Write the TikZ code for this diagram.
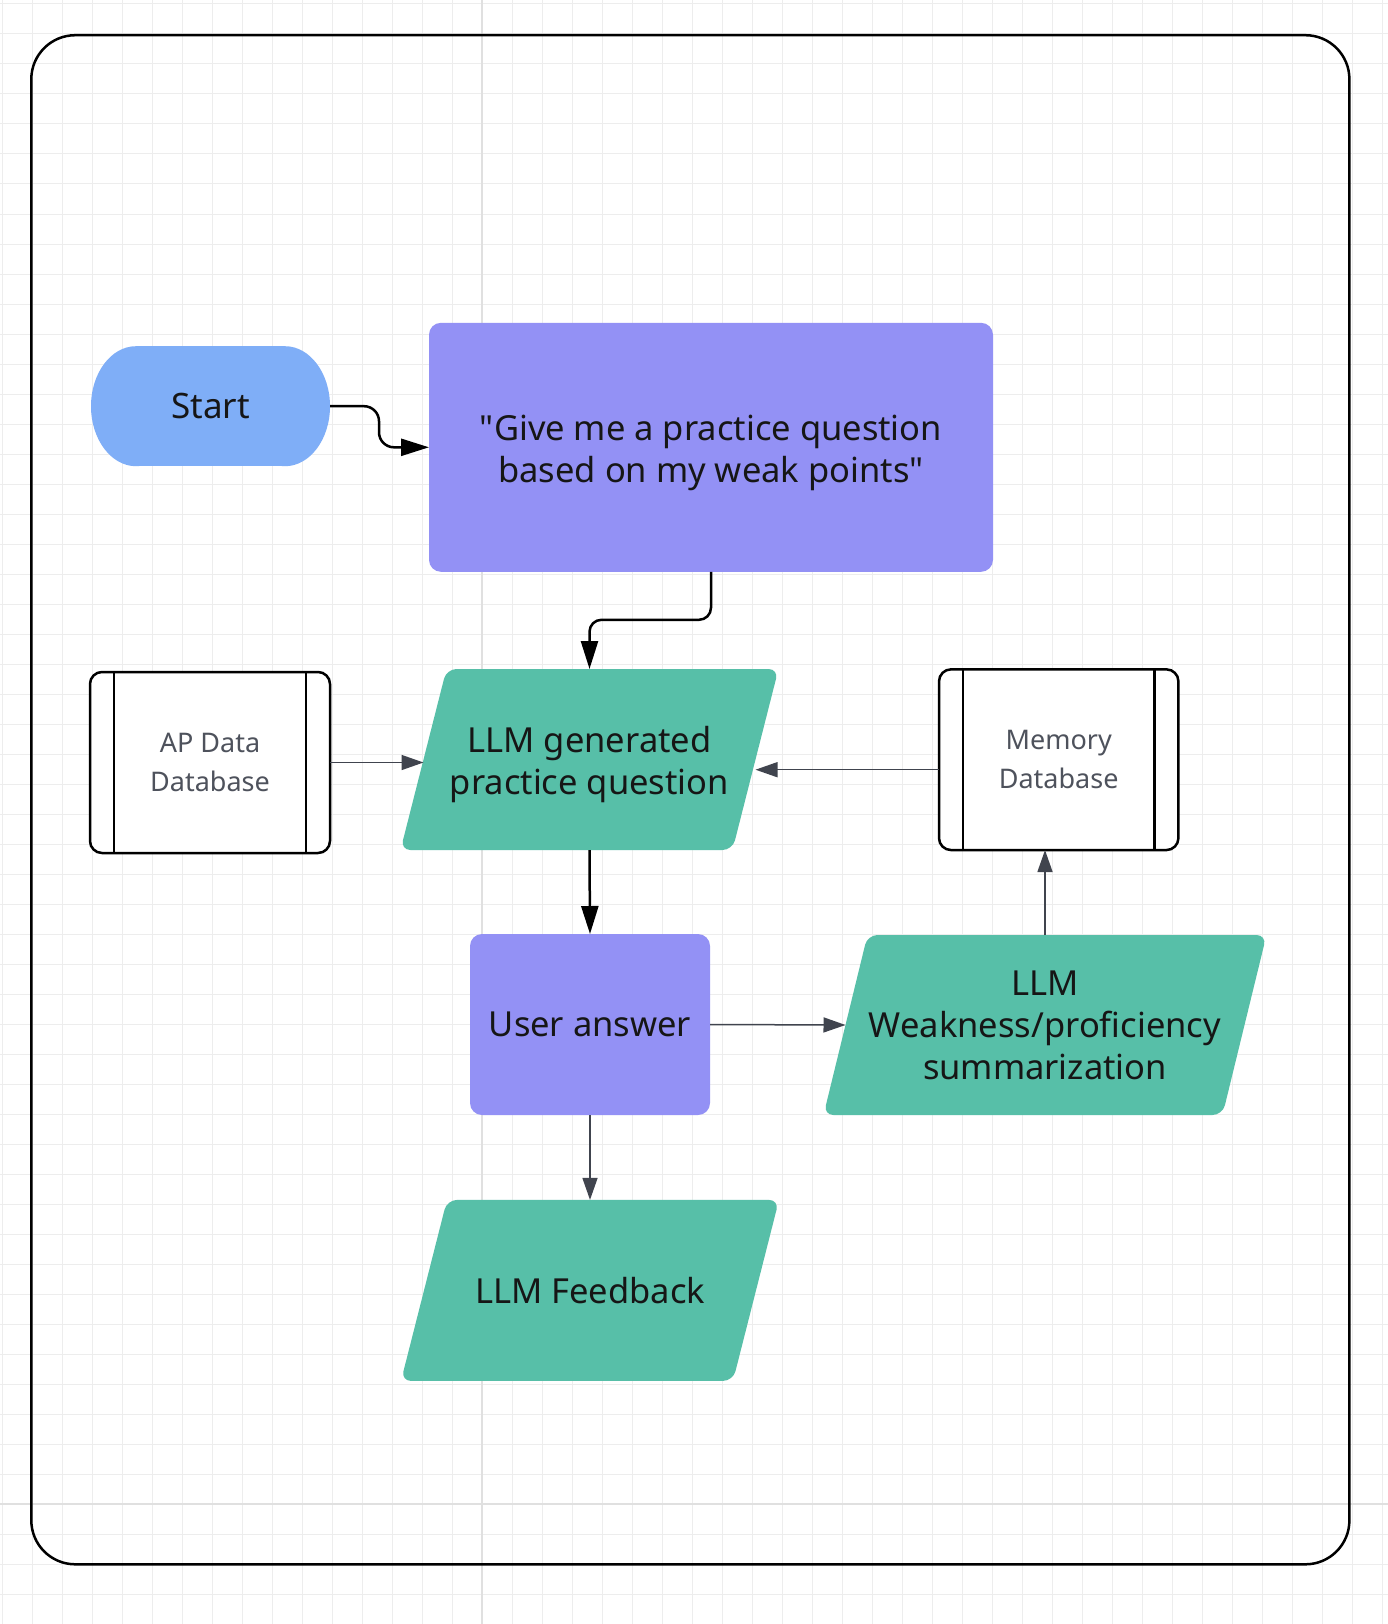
\documentclass[tikz,border=0pt]{standalone}
\usepackage{fontspec}
\setmainfont{Noto Sans}[Ligatures=TeXOff]
\usetikzlibrary{arrows.meta,calc}
\pgfdeclarelayer{gridlayer}
\pgfdeclarelayer{bg}
\pgfsetlayers{gridlayer,bg,main}
\definecolor{startblue}{HTML}{7FAEF7}
\definecolor{purp}{HTML}{9391F5}
\definecolor{tealc}{HTML}{57BFA8}
\definecolor{arrgray}{HTML}{40444E}
\definecolor{dbtext}{HTML}{4E525C}
\definecolor{gridc}{HTML}{EDEDED}
\definecolor{gridd}{HTML}{E0E0E0}
\definecolor{txt}{HTML}{161616}
\newcommand{\topstrut}{\rule{0pt}{36pt}}
\begin{document}
\begin{tikzpicture}[x=1pt,y=-1pt,
  every node/.style={inner sep=0pt, outer sep=0pt, align=center, text=txt},
  mainfont/.style={font=\fontsize{34.5}{42}\selectfont},
  startnode/.style={minimum width=239pt, minimum height=120pt, font=\fontsize{35}{42}\selectfont},
  purpbox/.style={fill=purp, rounded corners=12pt, mainfont},
  parabox/.style={minimum width=#1, mainfont},
  dbbox/.style={draw=black, line width=2.5pt, rounded corners=12pt, fill=white,
    minimum width=240pt, minimum height=181pt, font=\fontsize{27}{38.7}\selectfont, text=dbtext},
  dbline/.style={draw=black, line width=2.5pt},
  blackarrow/.style={draw=black, line width=2.5pt, -{Triangle[length=28pt,width=17pt]}},
  grayarrow/.style={draw=arrgray, line width=1.5pt, -{Triangle[length=22pt,width=15pt]}},
  parafill/.style={fill=tealc, rounded corners=10pt},
]
\useasboundingbox (0,0) rectangle (1388,1624);
\begin{pgfonlayer}{gridlayer}
  \fill[white] (0,0) rectangle (1388,1624);
  \foreach \x in {2,32,...,1388} \draw[gridc, line width=1pt] (\x,0) -- (\x,1624);
  \foreach \y in {4,34,...,1624} \draw[gridc, line width=1pt] (0,\y) -- (1388,\y);
  \draw[gridd, line width=1.2pt] (482,0) -- (482,1624);
  \draw[gridd, line width=1.2pt] (0,1504) -- (1388,1504);
\end{pgfonlayer}

% outer frame
\draw[line width=2.5pt, rounded corners=44pt] (31.3,35.2) rectangle (1349.4,1564.3);

% nodes
\node[startnode] (start) at (210.5,406.2) {Start};
\node[purpbox, minimum width=564pt, minimum height=249pt] (q) at (711,447.3)
  {\topstrut"Give me a practice question\\based on my weak points"};
\node[dbbox] (ap) at (210,762.5) {AP Data\\Database};
\node[dbbox, minimum width=239.4pt, minimum height=180.7pt] (mem) at (1058.7,759.7) {Memory\\Database};
\node[parabox=332pt, minimum height=181pt] (gen) at (589.5,759.5) {\topstrut LLM generated\\practice question};
\node[purpbox, minimum width=240pt, minimum height=181pt] (user) at (590,1024.5) {User answer};
\node[parabox=399pt, minimum height=180pt] (summ) at (1045,1025) {LLM\\Weakness/proficiency\\summarization};
\node[parabox=332pt, minimum height=181pt] (fb) at (590,1290.4) {LLM Feedback};

% database side strips
\draw[dbline] ([xshift=24pt]ap.north west) -- ([xshift=24pt]ap.south west);
\draw[dbline] ([xshift=-24pt]ap.north east) -- ([xshift=-24pt]ap.south east);
\draw[dbline] ([xshift=24pt]mem.north west) -- ([xshift=24pt]mem.south west);
\draw[dbline] ([xshift=-24pt]mem.north east) -- ([xshift=-24pt]mem.south east);

% shape fills behind text
\begin{pgfonlayer}{bg}
  \fill[startblue] ($(start.north west)+(45,0)$) rectangle ($(start.south east)+(-45,0)$);
  \fill[startblue] ($(start.west)+(45,0)$) ellipse [x radius=45, y radius=60];
  \fill[startblue] ($(start.east)+(-45,0)$) ellipse [x radius=45, y radius=60];
  \foreach \n/\s in {gen/23, summ/22, fb/23} {
    \fill[parafill] ($(\n.north west)+(\s,0)$) -- ($(\n.north east)+(\s,0)$)
      -- ($(\n.south east)+(-\s,0)$) -- ($(\n.south west)+(-\s,0)$) -- cycle;
  }
\end{pgfonlayer}

% connectors
\draw[blackarrow, rounded corners=15pt] (start.east) -- ++(49,0) |- (q.west);
\draw[blackarrow, rounded corners=12pt] (q.south) -- ++(0,48) -| (gen.north);
\draw[blackarrow] (gen.south) -- (user.north);
\draw[grayarrow] (ap.east) -- (ap.east -| gen.west);
\draw[grayarrow] ([yshift=-10pt]mem.west) -- ([yshift=-10pt]mem.west -| gen.east);
\draw[grayarrow] (user.east) -- (summ.west);
\draw[grayarrow] (summ.north) -- (summ.north |- mem.south);
\draw[grayarrow] (user.south) -- (fb.north);
\end{tikzpicture}
\end{document}
